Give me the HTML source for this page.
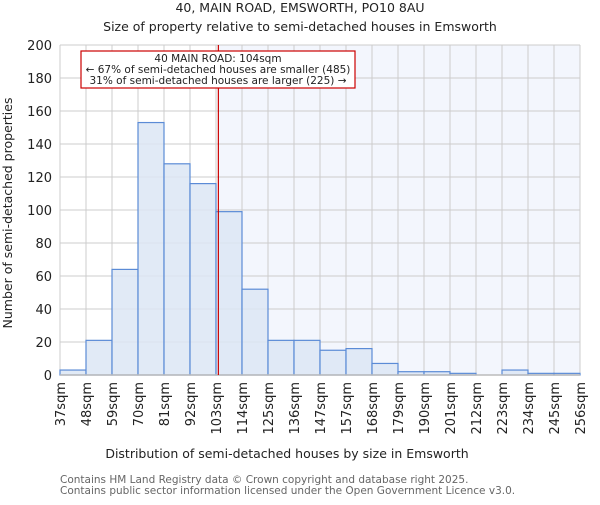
<!DOCTYPE html>
<html><head><meta charset="utf-8"><style>
body{margin:0;background:#fff}
svg text{font-family:"DejaVu Sans","Liberation Sans",sans-serif;fill:#222}
</style></head><body>
<svg id="c" width="600" height="500" xmlns="http://www.w3.org/2000/svg">
<text x="300" y="12" text-anchor="middle" font-size="12.5">40, MAIN ROAD, EMSWORTH, PO10 8AU</text>
<text x="300" y="31" text-anchor="middle" font-size="12.5">Size of property relative to semi-detached houses in Emsworth</text>
<g id="plot"></g>
<text x="287" y="458" text-anchor="middle" font-size="12.5">Distribution of semi-detached houses by size in Emsworth</text>
<text transform="translate(12,213) rotate(-90)" text-anchor="middle" font-size="12.5">Number of semi-detached properties</text>
<text x="60" y="483" font-size="10.5" style="fill:#666">Contains HM Land Registry data © Crown copyright and database right 2025.</text>
<text x="60" y="494" font-size="10.5" style="fill:#666">Contains public sector information licensed under the Open Government Licence v3.0.</text>
</svg>
<script>
const categories=["37sqm","48sqm","59sqm","70sqm","81sqm","92sqm","103sqm","114sqm","125sqm","136sqm","147sqm","157sqm","168sqm","179sqm","190sqm","201sqm","212sqm","223sqm","234sqm","245sqm","256sqm"];
const counts=[3,21,64,153,128,116,99,52,21,21,15,16,7,2,2,1,0,3,1,1];
const yTicks=[0,20,40,60,80,100,120,140,160,180,200];
const propertySize=104;
const binStart=37, binWidth=11;
const X0=60,X1=580,Y0=375,Y1=45,YMAX=200;
const nb=counts.length;
const bw=(X1-X0)/nb;
const xs=i=>X0+i*bw;
const xv=v=>X0+(v-binStart)/binWidth*bw;
const ys=v=>Y0-(v/YMAX)*(Y0-Y1);
const g=document.getElementById('plot');
const NS="http://www.w3.org/2000/svg";
function mk(t,a){const e=document.createElementNS(NS,t);for(const k in a)e.setAttribute(k,a[k]);g.appendChild(e);return e;}
const lx=xv(propertySize);
let e=mk('rect',{x:lx,y:Y1,width:X1-lx,height:Y0-Y1,fill:'#f3f6fd'});


yTicks.forEach(t=>{
 let l=mk('line',{x1:X0,x2:X1,y1:ys(t),y2:ys(t),stroke:'#ccc','stroke-width':1});
 
 
 let tx=mk('text',{x:X0-8,y:ys(t)+5,'text-anchor':'end','font-size':13});
 tx.textContent=t;
 
 
});
categories.forEach((c,i)=>{
 let l=mk('line',{x1:xs(i),x2:xs(i),y1:Y1,y2:Y0,stroke:'#ccc','stroke-width':1});
 
 
 let tx=mk('text',{transform:`translate(${xs(i)+5},${Y0+7}) rotate(-90)`,'text-anchor':'end','font-size':13});
 tx.textContent=c;
 
 
});
counts.forEach((v,i)=>{
 let r=mk('rect',{x:xs(i),y:ys(v),width:bw,height:Y0-ys(v),fill:'#dce6f4',stroke:'#5b8bd6','stroke-width':1.2,'fill-opacity':0.85});
 
 
});
let ax=mk('line',{x1:X0,x2:X1,y1:Y0,y2:Y0,stroke:'#bbb','stroke-width':1.5});


let ml=mk('line',{x1:lx,x2:lx,y1:Y1,y2:Y0,stroke:'#c00','stroke-width':1.2});


let box=mk('rect',{x:81,y:51,width:274,height:37,fill:'#fff',stroke:'#c00','stroke-width':1.2});


["40 MAIN ROAD: 104sqm","← 67% of semi-detached houses are smaller (485)","31% of semi-detached houses are larger (225) →"].forEach((s,k)=>{
 let t=mk('text',{x:218,y:62+k*11,'text-anchor':'middle','font-size':10.5});
 t.textContent=s;
 
 
});
</script>
</body></html>
